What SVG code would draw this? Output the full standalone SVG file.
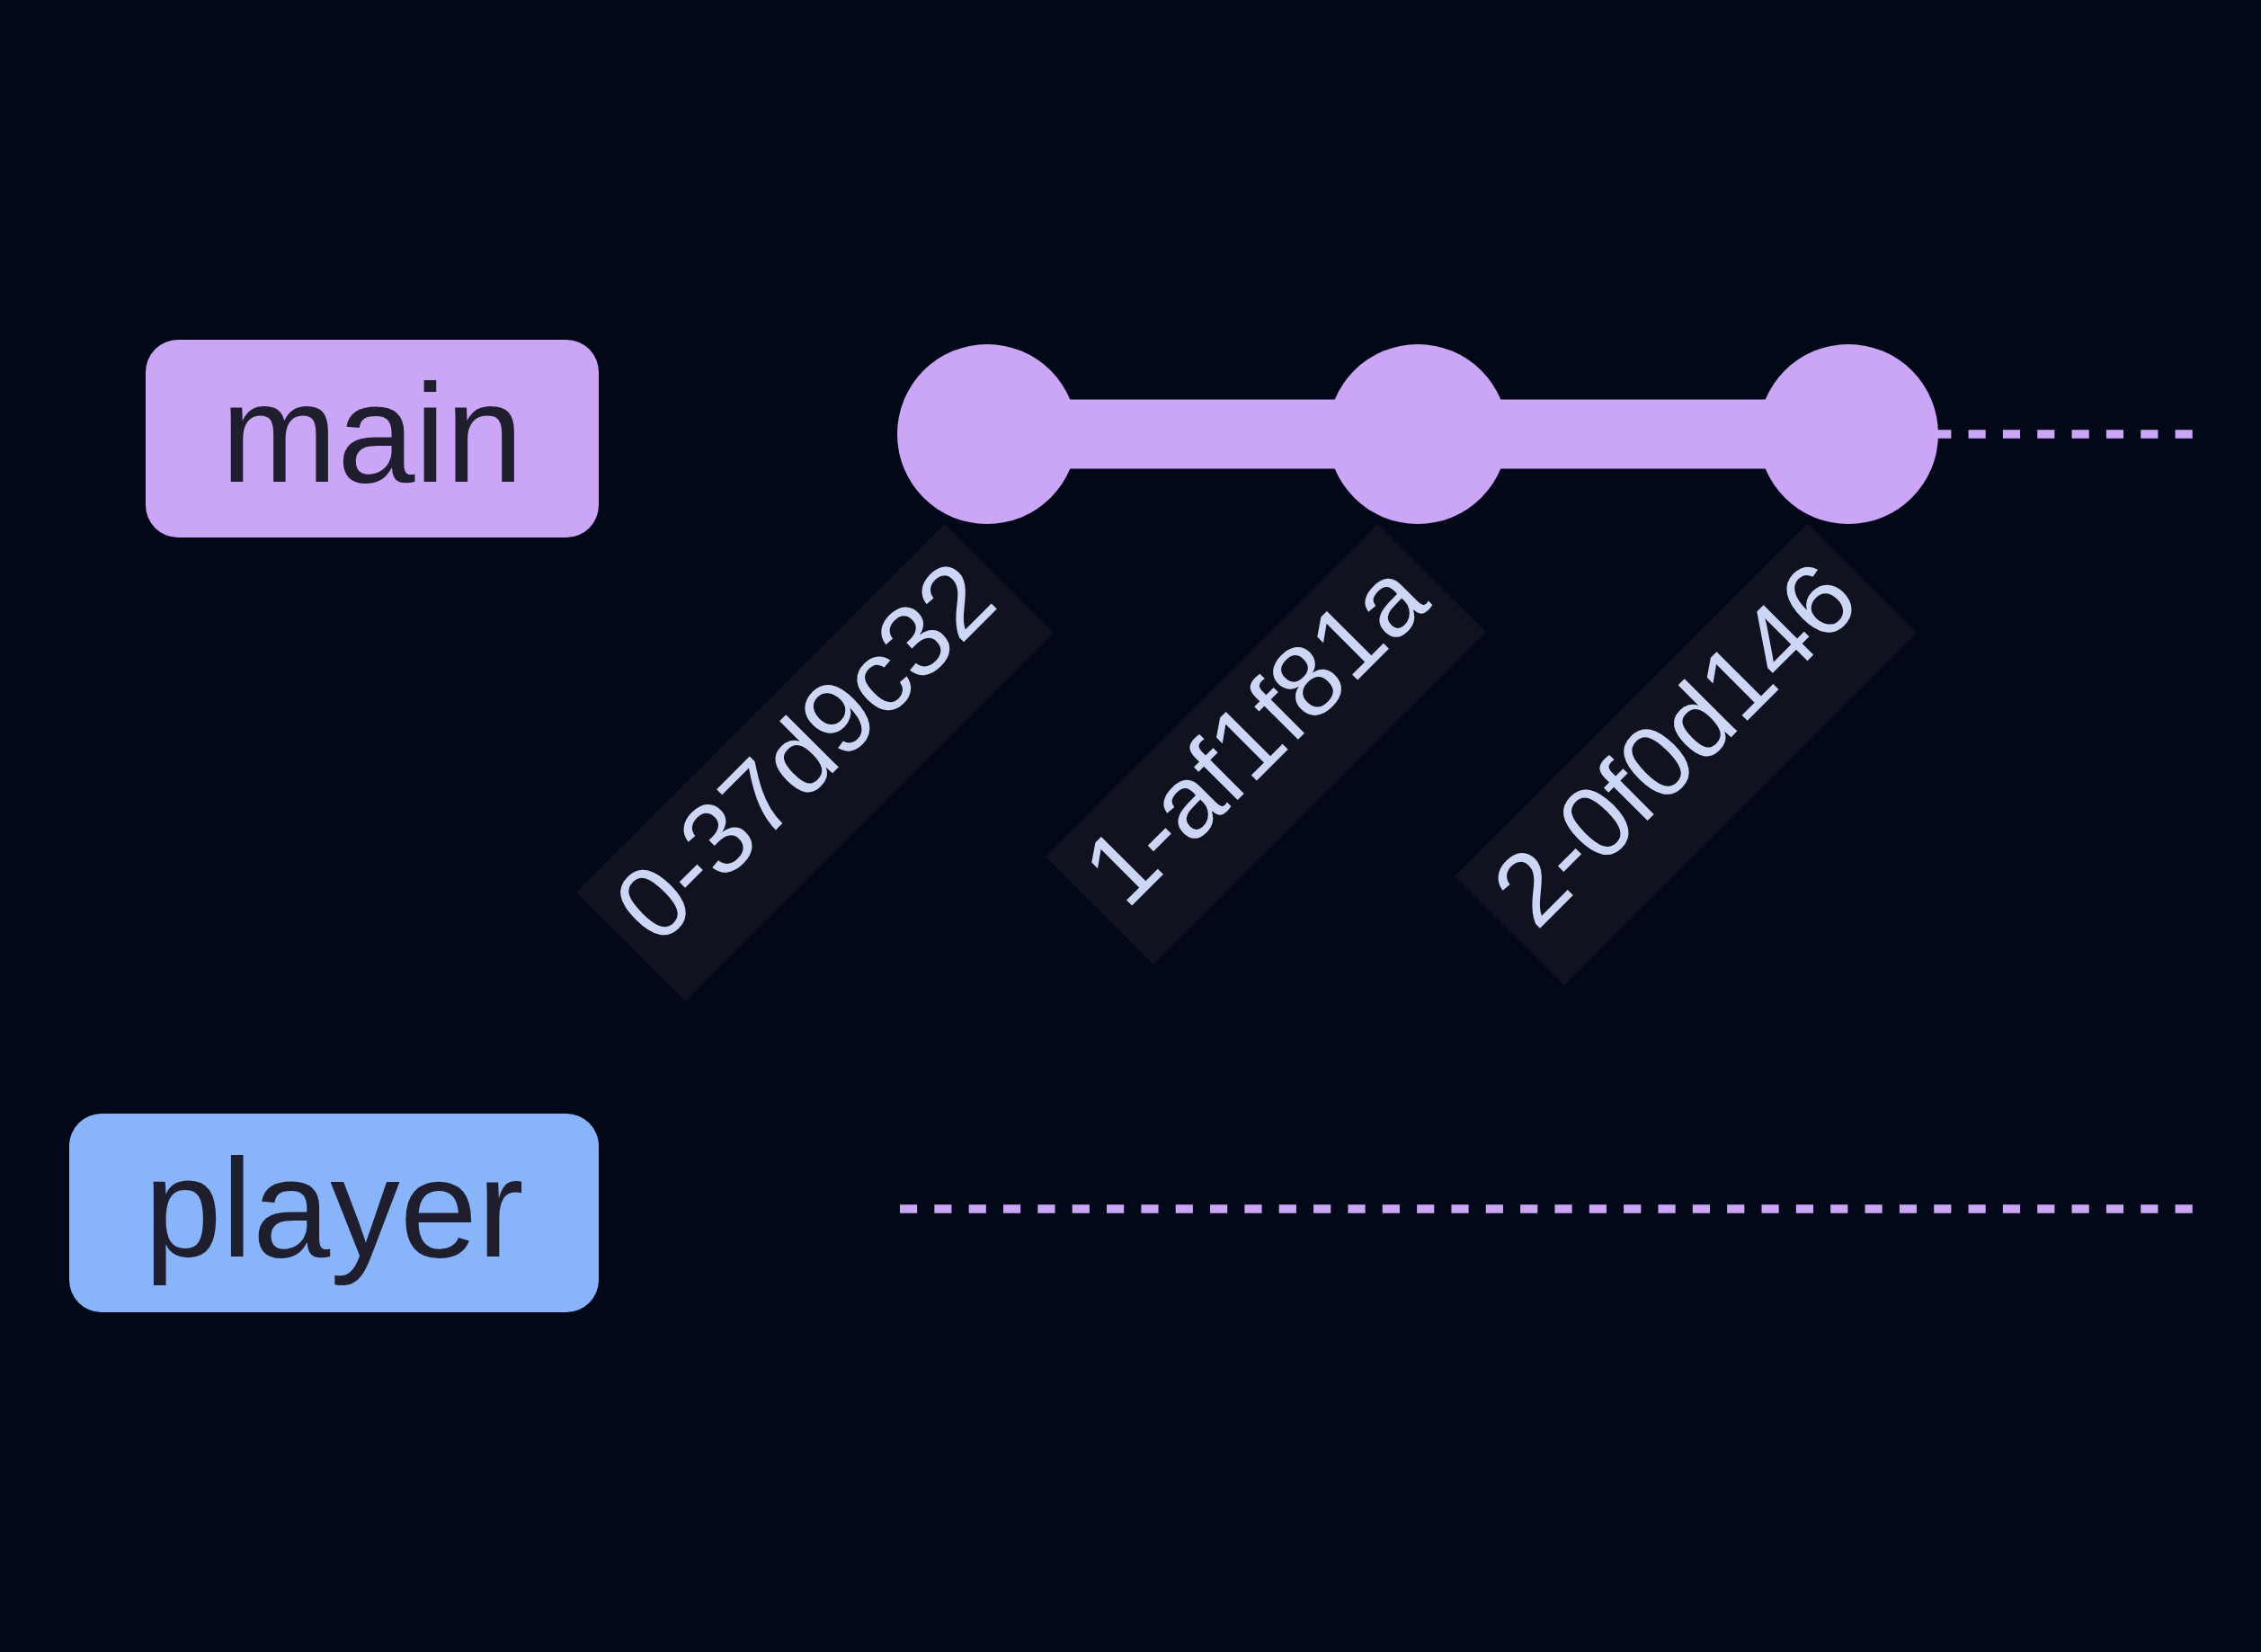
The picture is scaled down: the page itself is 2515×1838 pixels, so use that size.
<svg xmlns="http://www.w3.org/2000/svg" width="2515" height="1838" viewBox="0 0 2515 1838">
  <style>
    .bg { fill: #020817; }
    .branch-label { font-family: "Liberation Sans", Arial, sans-serif; font-size: 155px; fill: #1e1e2e; text-anchor: middle; }
    .branch-line { stroke: #cba6f7; stroke-width: 9.6; stroke-dasharray: 19.17 19.17; fill: none; }
    .commit { fill: #cba6f7; }
    .commit-line { stroke: #cba6f7; stroke-width: 77; fill: none; }
    .label-bg { fill: #10121f; }
    .commit-label { font-family: "Liberation Sans", Arial, sans-serif; font-size: 114px; fill: #cdd6f4; text-anchor: middle; }
  </style>
  <rect class="bg" x="0" y="0" width="2515" height="1838"/>

  <g id="branch-main">
    <rect x="162" y="378" width="504" height="220" rx="36" ry="36" fill="#cba6f7"/>
    <text class="branch-label" x="414" y="536">main</text>
  </g>
  <g id="branch-player">
    <rect x="77" y="1239" width="589" height="221" rx="36" ry="36" fill="#89b4fa"/>
    <text class="branch-label" x="371.5" y="1398">player</text>
  </g>

  <g id="connectors">
    <line class="branch-line" x1="1001" y1="483" x2="2440" y2="483"/>
    <line class="branch-line" x1="1001" y1="1345" x2="2440" y2="1345"/>
    <path class="commit-line" d="M1098,483 L1577,483"/>
    <path class="commit-line" d="M1577,483 L2056,483"/>
  </g>

  <g id="commit-0">
    <circle class="commit" cx="1098" cy="483" r="100"/>
    <g transform="translate(641,992.5) rotate(-45)">
      <rect class="label-bg" x="0" y="0" width="580" height="172"/>
      <text class="commit-label" x="290" y="108">0-37d9c32</text>
    </g>
  </g>
  <g id="commit-1">
    <circle class="commit" cx="1577" cy="483" r="100"/>
    <g transform="translate(1162.7,952.7) rotate(-45)">
      <rect class="label-bg" x="0" y="0" width="523" height="170"/>
      <text class="commit-label" x="261.5" y="107">1-af1f81a</text>
    </g>
  </g>
  <g id="commit-2">
    <circle class="commit" cx="2056" cy="483" r="100"/>
    <g transform="translate(1618,975) rotate(-45)">
      <rect class="label-bg" x="0" y="0" width="555" height="172"/>
      <text class="commit-label" x="277.5" y="108">2-0f0d146</text>
    </g>
  </g>
</svg>
